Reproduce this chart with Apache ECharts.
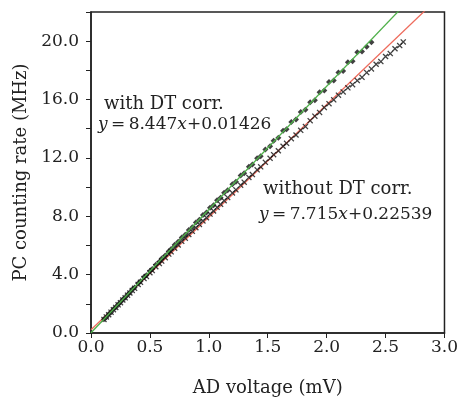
<!DOCTYPE html>
<html>
<head>
<meta charset="utf-8">
<script src="https://cdn.jsdelivr.net/npm/echarts@6/dist/echarts.min.js"></script>
<style>
html,body{margin:0;padding:0;background:#fff;}
#c{width:461px;height:402px;}
</style>
</head>
<body>
<div id="c"></div>
<script>
// ---- data ----
var xTicks = [0.0, 0.5, 1.0, 1.5, 2.0, 2.5, 3.0];
var yTickLabels = [0, 4, 8, 12, 16, 20];

var withDTx = [0.11,0.13,0.15,0.17,0.19,0.21,0.23,0.25,0.27,0.29,0.31,0.33,0.35,0.37,0.40,0.42,0.45,0.47,0.50,0.52,0.55,0.58,0.60,0.63,0.66,0.68,0.71,0.74,0.77,0.80,0.83,0.86,0.89,0.92,0.95,0.98,1.01,1.04,1.07,1.10,1.13,1.16,1.20,1.23,1.27,1.30,1.34,1.37,1.41,1.44,1.48,1.52,1.55,1.59,1.63,1.66,1.70,1.74,1.78,1.82,1.86,1.90,1.94,1.98,2.02,2.06,2.10,2.14,2.18,2.22,2.26,2.30,2.34,2.38];
var withDTy = [0.95,1.08,1.29,1.43,1.62,1.76,1.96,2.10,2.30,2.44,2.63,2.77,2.98,3.12,3.40,3.54,3.83,3.96,4.25,4.39,4.68,4.89,5.10,5.32,5.61,5.75,6.04,6.25,6.55,6.74,7.06,7.25,7.57,7.76,8.08,8.26,8.58,8.76,9.10,9.27,9.61,9.78,10.20,10.36,10.80,10.95,11.40,11.54,11.98,12.12,12.58,12.80,13.18,13.38,13.86,13.97,14.46,14.63,15.14,15.30,15.82,15.96,16.50,16.62,17.20,17.30,17.86,17.95,18.55,18.62,19.24,19.30,19.62,19.92];

var noDTx = [0.11,0.13,0.15,0.17,0.19,0.21,0.23,0.25,0.27,0.29,0.31,0.33,0.35,0.37,0.40,0.42,0.45,0.47,0.50,0.52,0.55,0.58,0.60,0.63,0.66,0.68,0.71,0.74,0.77,0.80,0.83,0.86,0.89,0.92,0.95,0.98,1.01,1.04,1.07,1.10,1.13,1.16,1.20,1.23,1.27,1.30,1.34,1.37,1.41,1.44,1.48,1.52,1.55,1.59,1.63,1.66,1.70,1.74,1.78,1.82,1.86,1.90,1.94,1.98,2.02,2.06,2.10,2.14,2.18,2.22,2.26,2.30,2.34,2.38,2.42,2.46,2.50,2.54,2.58,2.62,2.65];
var noDTy = [0.93,1.10,1.25,1.43,1.60,1.75,1.93,2.08,2.26,2.41,2.59,2.74,2.92,3.06,3.33,3.47,3.73,3.88,4.13,4.28,4.54,4.76,4.93,5.16,5.41,5.56,5.81,6.03,6.28,6.50,6.75,6.97,7.22,7.44,7.68,7.90,8.15,8.36,8.61,8.82,9.07,9.28,9.60,9.81,10.13,10.34,10.66,10.86,11.18,11.39,11.70,11.97,12.22,12.49,12.80,13.00,13.32,13.57,13.89,14.15,14.55,14.86,15.12,15.45,15.72,15.98,16.30,16.52,16.80,17.02,17.30,17.52,17.85,18.10,18.42,18.60,18.95,19.15,19.48,19.70,19.95];

// fitted lines (coefficients printed on the chart)
var fitWith = {slope: 8.447, intercept: 0.01426};
var fitWithout = {slope: 7.715, intercept: 0.22539};
var fitX = [0, 3.0];

function pairs(xs, ys){ return xs.map(function(x,i){ return [x, ys[i]]; }); }
function fitLine(f){ return fitX.map(function(x){ return [x, f.slope*x + f.intercept]; }); }

var FONT = 'DejaVu Serif';
var INK = '#222';
var crossPath = 'path://M0,1.5L1.5,0L5,3.5L8.5,0L10,1.5L6.5,5L10,8.5L8.5,10L5,6.5L1.5,10L0,8.5L3.5,5Z';
var eqRich = {i: {fontFamily: FONT, fontSize: 17, fontStyle: 'italic', fill: INK},
              n: {fontFamily: FONT, fontSize: 17, fill: INK}};

var chart = echarts.init(document.getElementById('c'), null, {renderer:'canvas'});
chart.setOption({
  animation: false,
  backgroundColor: '#fff',
  grid: {left: 91, right: 14, top: 12, bottom: 66, show: true, borderColor: INK, borderWidth: 1.5, backgroundColor: 'transparent'},
  xAxis: {
    type: 'value', min: 0, max: 3, interval: 0.5,
    name: 'AD voltage (mV)', nameLocation: 'middle', nameGap: 46,
    nameTextStyle: {fontFamily: FONT, fontSize: 18, color: INK},
    axisLine: {show: true, lineStyle: {color: INK, width: 1.5}},
    axisTick: {show: true, inside: false, length: 5, lineStyle: {color: INK}},
    axisLabel: {fontFamily: FONT, fontSize: 17, color: INK, margin: 6,
      formatter: function(v){ return v.toFixed(1); }},
    splitLine: {show: false}
  },
  yAxis: {
    type: 'value', min: 0, max: 22, interval: 2,
    name: 'PC counting rate (MHz)', nameLocation: 'middle', nameGap: 61,
    nameTextStyle: {fontFamily: FONT, fontSize: 18, color: INK},
    axisLine: {show: true, lineStyle: {color: INK, width: 1.5}},
    axisTick: {show: true, inside: false, length: 5, lineStyle: {color: INK}},
    axisLabel: {fontFamily: FONT, fontSize: 17, color: INK, margin: 12,
      formatter: function(v){ return yTickLabels.indexOf(Math.round(v)) >= 0 && Math.abs(v - Math.round(v)) < 1e-6 ? v.toFixed(1) : ''; }},
    splitLine: {show: false}
  },
  series: [
    {type: 'line', data: fitLine(fitWithout), symbol: 'none', clip: true,
     lineStyle: {color: '#ee6b5c', width: 1.3}, z: 2},
    {type: 'scatter', data: pairs(noDTx, noDTy), symbol: crossPath, symbolSize: 6,
     itemStyle: {color: '#111'}, z: 3},
    {type: 'scatter', data: pairs(withDTx, withDTy), symbol: 'diamond', symbolSize: 6,
     itemStyle: {color: '#111'}, z: 4},
    {type: 'line', data: fitLine(fitWith), symbol: 'none', clip: true,
     lineStyle: {color: '#4fb04a', width: 1.3}, z: 5}
  ],
  graphic: [
    {type: 'text', left: 104, top: 95, style: {text: 'with DT corr.', font: '18px "DejaVu Serif"', fill: INK}},
    {type: 'text', left: 98, top: 116, style: {
      text: '{i|y}{n|\u2009=\u20098.447}{i|x}{n|+0.01426}', fill: INK, rich: eqRich}},
    {type: 'text', left: 263, top: 180, style: {text: 'without DT corr.', font: '18px "DejaVu Serif"', fill: INK}},
    {type: 'text', left: 259, top: 206, style: {
      text: '{i|y}{n|\u2009=\u20097.715}{i|x}{n|+0.22539}', fill: INK, rich: eqRich}}
  ]
});
</script>
</body>
</html>
